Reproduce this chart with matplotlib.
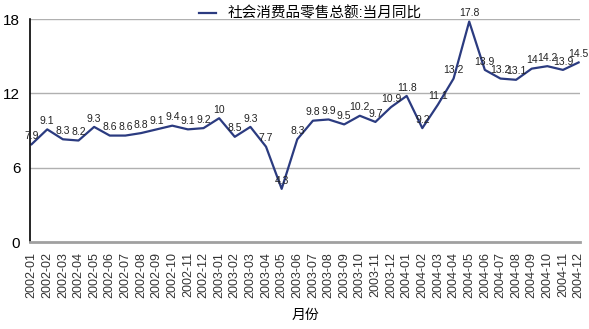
import matplotlib.pyplot as plt

plt.rcParams['font.family'] = ['Liberation Sans', 'Noto Sans CJK SC', 'DejaVu Sans']

# monthly labels 2002-01 .. 2004-12
months = [f"{y}-{m:02d}" for y in (2002, 2003, 2004) for m in range(1, 13)]

# retail sales of consumer goods, year-on-year growth (%)
values = [7.9, 9.1, 8.3, 8.2, 9.3, 8.6, 8.6, 8.8, 9.1, 9.4, 9.1, 9.2,
          10, 8.5, 9.3, 7.7, 4.3, 8.3, 9.8, 9.9, 9.5, 10.2, 9.7, 10.9,
          11.8, 9.2, 11.1, 13.2, 17.8, 13.9, 13.2, 13.1, 14, 14.2, 13.9, 14.5]

yticks = [0, 6, 12, 18]
series_name = "社会消费品零售总额:当月同比"

fig = plt.figure(figsize=(5.89, 3.29), dpi=100)
ax = fig.add_axes([0.051, 0.264, 0.934, 0.678])

x = list(range(len(months)))
line, = ax.plot(x, values, color='#2b3b80', linewidth=1.6, label=series_name)

# value labels above each point
for xi, v in zip(x, values):
    txt = f"{v:g}"
    ax.annotate(txt, (xi, v), xytext=(0, 6), textcoords='offset points',
                ha='center', va='center', fontsize=7.5, color='#222222')

ax.set_xlim(-0.1, len(months) - 0.9)
ax.set_ylim(0, 18)
ax.set_yticks(yticks)
ax.set_yticklabels([str(t) for t in yticks], fontsize=11)
ax.set_xticks(x)
ax.set_xticklabels(months, rotation=90, fontsize=9, color='#333333')
ax.tick_params(axis='both', length=0)
ax.tick_params(axis='y', pad=7)
ax.tick_params(axis='x', pad=7)

for yt in (6, 12, 18):
    ax.axhline(yt, color='#b0b0b0', linewidth=1.0, zorder=0)

ax.spines['top'].set_visible(False)
ax.spines['right'].set_visible(False)
ax.spines['left'].set_color('black')
ax.spines['left'].set_linewidth(1.2)
ax.spines['bottom'].set_color('#a0a0a0')
ax.spines['bottom'].set_linewidth(2)

ax.set_xlabel("月份", fontsize=10, labelpad=7)

fig.legend(handles=[line], loc='upper center', bbox_to_anchor=(0.527, 1.02),
           frameon=False, fontsize=10.5, handlelength=1.2, handletextpad=0.8)

fig.savefig('out.png', dpi=100)
